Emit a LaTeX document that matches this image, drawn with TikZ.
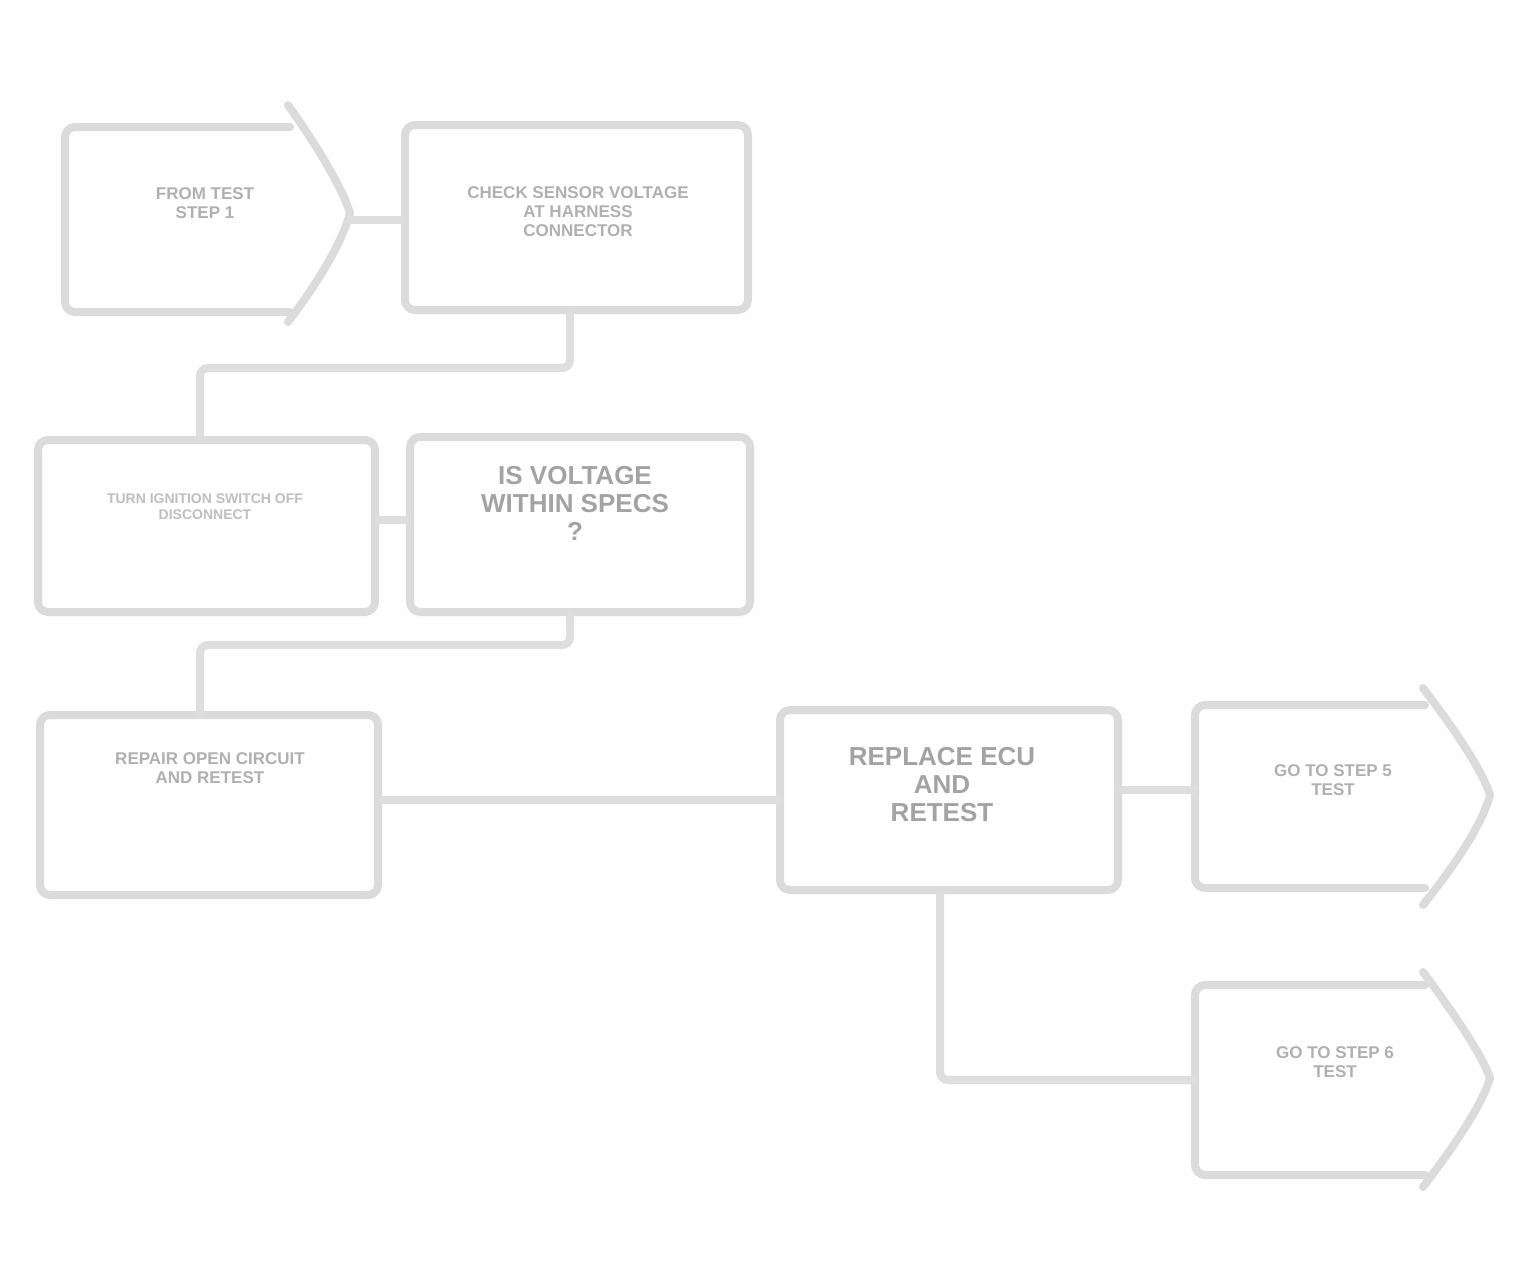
\documentclass[tikz,border=0pt]{standalone}
\usepackage{fontspec}
\setmainfont{Liberation Sans}
\begin{document}
\begin{tikzpicture}[x=1pt,y=-1pt]
\tikzset{
  outl/.style={draw=gray!28, line width=8pt, rounded corners=10pt, line cap=round, line join=round},
  wire/.style={draw=gray!26, line width=8pt, rounded corners=8pt, line cap=round},
  boxnode/.style={outl, inner sep=0pt, align=center},
  ghost/.style={draw=none, inner sep=0pt, align=center},
  txt/.style={font=\bfseries\fontsize{17}{19}\selectfont, text=gray!62, align=center},
  heavy/.style={font=\bfseries\fontsize{26}{28}\selectfont, text=gray!72, align=center},
  light/.style={font=\bfseries\fontsize{14}{16}\selectfont, text=gray!50, align=center}
}
\fill[white] (0,0) rectangle (1528,1272);
\useasboundingbox (0,0) rectangle (1528,1272);

% Box A (arrow shaped)
\node[ghost, minimum width=285pt, minimum height=190pt] (A) at (207.5,219.5) {};
\draw[outl] (290,127) -- (65,127) -- (65,312) -- (290,312);
\draw[outl, rounded corners=0pt] (288,105) .. controls (320,150) and (343,190) .. (350,213) .. controls (343,240) and (320,280) .. (288,322);
\node[txt] at (205,203) {FROM TEST\\STEP 1};

% Box B
\node[boxnode, minimum width=343pt, minimum height=185pt] (B) at (576.5,217.5) {};
\node[txt] at (578,212) {CHECK SENSOR VOLTAGE\\AT HARNESS\\CONNECTOR};

% Box C
\node[boxnode, minimum width=337pt, minimum height=172pt] (C) at (206.5,526) {};
\node[light] at (205,507) {TURN IGNITION SWITCH OFF\\DISCONNECT};

% Box D
\node[boxnode, minimum width=340pt, minimum height=175pt] (D) at (580,524.5) {};
\node[heavy] at (575,503) {IS VOLTAGE\\WITHIN SPECS\\?};

% Box E
\node[boxnode, minimum width=338pt, minimum height=180pt] (E) at (209,805) {};
\node[txt] at (210,768) {REPAIR OPEN CIRCUIT\\AND RETEST};

% Box F
\node[boxnode, minimum width=338pt, minimum height=180pt] (F) at (949,800) {};
\node[heavy] at (942,785) {REPLACE ECU\\AND\\RETEST};

% Box G (arrow shaped)
\node[ghost, minimum width=295pt, minimum height=183pt] (G) at (1342.5,796.5) {};
\draw[outl] (1425,705) -- (1195,705) -- (1195,888) -- (1425,888);
\draw[outl, rounded corners=0pt] (1423,688) .. controls (1455,730) and (1482,770) .. (1490,795) .. controls (1482,825) and (1455,865) .. (1423,905);
\node[txt] at (1333,780) {GO TO STEP 5\\TEST};

% Box H (arrow shaped)
\node[ghost, minimum width=295pt, minimum height=190pt] (H) at (1342.5,1080) {};
\draw[outl] (1425,985) -- (1195,985) -- (1195,1175) -- (1425,1175);
\draw[outl, rounded corners=0pt] (1423,972) .. controls (1455,1015) and (1482,1055) .. (1490,1078) .. controls (1482,1105) and (1455,1145) .. (1423,1187);
\node[txt] at (1335,1062) {GO TO STEP 6\\TEST};

% connectors
\draw[wire] (A.east) -- (B.west |- A.east);
\draw[wire] (B.south -| 570,0) -- (570,368) -- (200,368) -- (C.north -| 200,0);
\draw[wire] (C.east |- 0,520) -- (D.west |- 0,520);
\draw[wire] (D.south -| 570,0) -- (570,645) -- (200,645) -- (E.north -| 200,0);
\draw[wire] (E.east |- 0,800) -- (F.west |- 0,800);
\draw[wire] (F.east |- 0,790) -- (1195,790);
\draw[wire] (F.south -| 940,0) -- (940,1080) -- (H.west |- 0,1080);
\end{tikzpicture}
\end{document}
